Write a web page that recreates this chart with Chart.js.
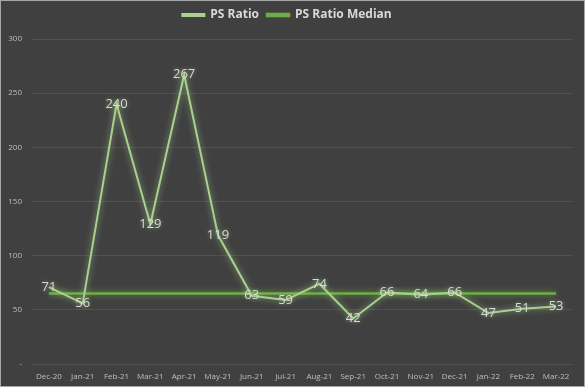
<!DOCTYPE html>
<html>
<head>
<meta charset="utf-8">
<script src="https://cdn.jsdelivr.net/npm/chart.js@4"></script>
<style>
  html, body { margin: 0; padding: 0; background: #404040; }
  #wrap { width: 585px; height: 387px; box-sizing: border-box; border: 1px solid #a6a6a6; background: #404040; }
</style>
</head>
<body>
<div id="wrap"><canvas id="stage" width="583" height="385"></canvas></div>
<script>
// 月別データ
let months = ['Dec-20','Jan-21','Feb-21','Mar-21','Apr-21','May-21','Jun-21','Jul-21','Aug-21','Sep-21','Oct-21','Nov-21','Dec-21','Jan-22','Feb-22','Mar-22'];
let psRatio = [71, 56, 240, 129, 267, 119, 63, 59, 74, 42, 66, 64, 66, 47, 51, 53];
let psMedian = [65, 65, 65, 65, 65, 65, 65, 65, 65, 65, 65, 65, 65, 65, 65, 65];
let yTicks = [0, 50, 100, 150, 200, 250, 300];

// glow for the lines
var glow = {
  id: 'glow',
  afterInit: function(chart) {
    // fixed legend band height
    var orig = chart.legend.fit;
    chart.legend.fit = function() { orig.call(this); this.height = 38; };
  },
  beforeDatasetDraw: function(chart, args) {
    var ctx = chart.ctx;
    ctx.save();
    ctx.shadowColor = args.index === 0 ? 'rgba(169,209,142,0.8)' : 'rgba(112,173,71,0.9)';
    ctx.shadowBlur = 6;
  },
  afterDatasetDraw: function(chart) {
    chart.ctx.restore();
  }
};

// data labels on PS Ratio points
var valueLabels = {
  id: 'valueLabels',
  afterDatasetsDraw: function(chart) {
    var ctx = chart.ctx;
    var meta = chart.getDatasetMeta(0);
    ctx.save();
    ctx.font = '13px "Open Sans", sans-serif';
    ctx.textAlign = 'center';
    ctx.textBaseline = 'middle';
    ctx.fillStyle = '#d9d9d9';
    ctx.shadowColor = 'rgba(169,209,142,0.6)';
    ctx.shadowBlur = 4;
    meta.data.forEach(function(pt, i) {
      ctx.fillText(psRatio[i], pt.x, pt.y);
    });
    ctx.restore();
  }
};

var mydata = {
  labels: months,
  datasets: [
    {
      label: 'PS Ratio',
      data: psRatio,
      borderColor: '#a9d18e',
      backgroundColor: '#a9d18e',
      borderWidth: 2,
      pointRadius: 0,
      tension: 0
    },
    {
      label: 'PS Ratio Median',
      data: psMedian,
      borderColor: '#70ad47',
      backgroundColor: '#70ad47',
      borderWidth: 2.5,
      pointRadius: 0
    }
  ]
};

var options = {
  responsive: false,
  animation: false,
  layout: { padding: { left: 0, right: 11, top: 0, bottom: 0 } },
  plugins: {
    legend: {
      position: 'top',
      labels: {
        color: '#d9d9d9',
        font: { family: '"Open Sans", sans-serif', size: 12, weight: 'bold' },
        boxWidth: 22,
        boxHeight: 2,
        padding: 8
      }
    },
    tooltip: { enabled: false }
  },
  scales: {
    x: {
      offset: true,
      afterFit: function(scale) { scale.height = 22; },
      grid: { display: false },
      border: { display: false },
      ticks: {
        color: '#bfbfbf',
        font: { family: '"Open Sans", sans-serif', size: 8 },
        maxRotation: 0,
        autoSkip: false,
        padding: 0
      }
    },
    y: {
      min: 0,
      max: 300,
      afterFit: function(scale) { scale.width = 31; },
      afterBuildTicks: function(scale) { scale.ticks = yTicks.map(function(v) { return { value: v }; }); },
      grid: { color: 'rgba(255,255,255,0.09)', drawTicks: false },
      border: { display: false },
      ticks: {
        color: '#bfbfbf',
        font: { family: '"Open Sans", sans-serif', size: 8 },
        padding: 10,
        callback: function(v) { return v === 0 ? '-' : v; }
      }
    }
  }
};

var canvas = document.getElementById('stage');
var chart = new Chart(canvas, {
  type: 'line',
  data: mydata,
  options: options,
  plugins: [glow, valueLabels]
});
</script>
</body>
</html>
